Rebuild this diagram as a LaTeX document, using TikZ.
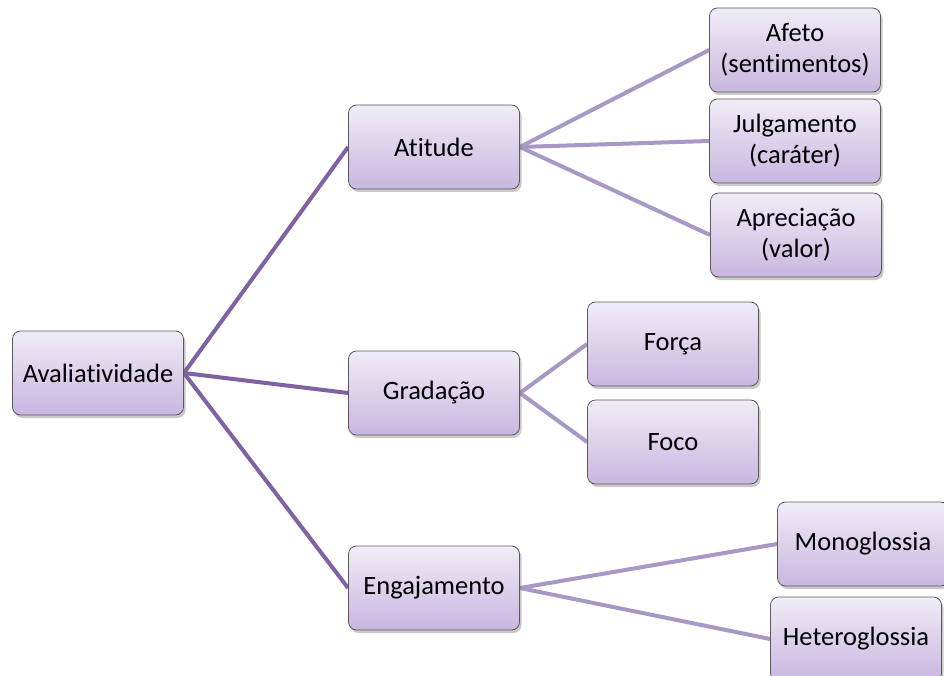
\documentclass[tikz,border=0pt]{standalone}
\usepackage{fontspec}
\setmainfont{Carlito}[Ligatures=NoCommon]
\usetikzlibrary{shadows,backgrounds}
\definecolor{boxtop}{HTML}{F0ECF7}
\definecolor{boxbot}{HTML}{C8B7E0}
\definecolor{boxline}{HTML}{5A5A5A}
\definecolor{linkdark}{HTML}{7E62A3}
\definecolor{linklight}{HTML}{A898C6}
\tikzset{
  box/.style={draw=boxline, line width=0.8pt, rounded corners=8pt,
    top color=boxtop, bottom color=boxbot,
    minimum width=171pt, minimum height=84pt, inner sep=2pt,
    align=center, font=\fontsize{26.5}{31}\selectfont,
    drop shadow={shadow xshift=2pt, shadow yshift=-3pt, opacity=0.35, fill=black!60}},
  linkA/.style={draw=linkdark, line width=4pt},
  linkB/.style={draw=linklight, line width=4pt}
}
\begin{document}
\begin{tikzpicture}[x=1pt,y=-1pt]
  \useasboundingbox (0,0) rectangle (944,676);
  % first level
  \node[box] (root) at (98,373) {Avaliatividade};
  \node[box] (atit) at (434,147) {Atitude};
  \node[box] (grad) at (434,393) {Gradação};
  \node[box] (enga) at (434,588) {Engajamento};
  % second level
  \node[box] (afet) at (795,50) {Afeto\\(sentimentos)};
  \node[box] (julg) at (795,141) {Julgamento\\(caráter)};
  \node[box] (apre) at (796,235) {Apreciação\\(valor)};
  \node[box] (forc) at (673,344) {Força};
  \node[box] (foco) at (673,442) {Foco};
  \node[box] (mono) at (863,544) {Monoglossia};
  \node[box] (hete) at (856,639) {Heteroglossia};
  % connectors, kept behind the boxes
  \begin{scope}[on background layer]
    \draw[linkA] (root.east) -- (atit.west);
    \draw[linkA] (root.east) -- (grad.west);
    \draw[linkA] (root.east) -- (enga.west);
    \draw[linkB] (atit.east) -- (afet.west);
    \draw[linkB] (atit.east) -- (julg.west);
    \draw[linkB] (atit.east) -- (apre.west);
    \draw[linkB] (grad.east) -- (forc.west);
    \draw[linkB] (grad.east) -- (foco.west);
    \draw[linkB] (enga.east) -- (mono.west);
    \draw[linkB] (enga.east) -- (hete.west);
  \end{scope}
\end{tikzpicture}
\end{document}
